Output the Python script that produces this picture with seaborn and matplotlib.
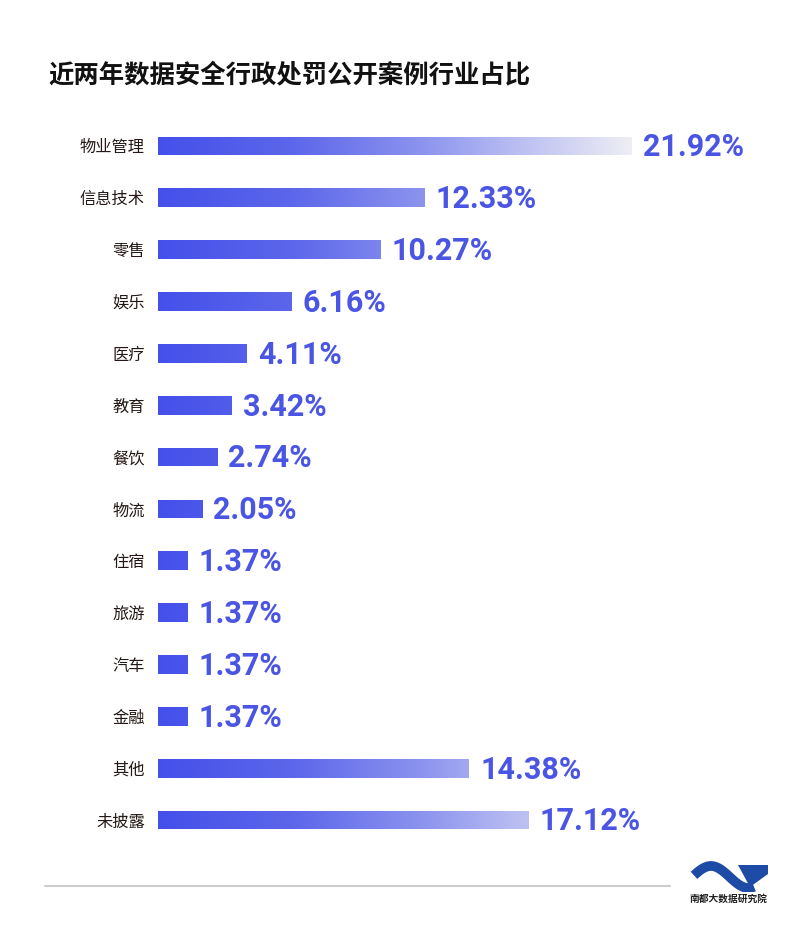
import numpy as np
import pandas as pd
import matplotlib
matplotlib.use("Agg")
import matplotlib.pyplot as plt
from matplotlib.colors import LinearSegmentedColormap
import seaborn as sns

# Data
CATEGORIES = ["物业管理", "信息技术", "零售", "娱乐", "医疗", "教育", "餐饮",
              "物流", "住宿", "旅游", "汽车", "金融", "其他", "未披露"]
SHARES = [21.92, 12.33, 10.27, 6.16, 4.11, 3.42, 2.74,
          2.05, 1.37, 1.37, 1.37, 1.37, 14.38, 17.12]
TITLE = "近两年数据安全行政处罚公开案例行业占比"
SOURCE = "南都大数据研究院"

BLUE = "#4450ea"
CJK = ["Noto Sans CJK SC", "DejaVu Sans"]
NUM_FONT = ["Liberation Sans Narrow", "Roboto", "Liberation Sans", "DejaVu Sans"]

sns.set_theme(style="white")
plt.rcParams["font.family"] = CJK

W, H = 800, 942
fig = plt.figure(figsize=(W / 100, H / 100), dpi=100)

# axes: x from 158px, 21.62 px per percent
px_per_unit = 474 / 21.92
ax_left, ax_right = 158, 770
ax_top, ax_bot = 120, 846
ax = fig.add_axes([ax_left / W, 1 - ax_bot / H, (ax_right - ax_left) / W, (ax_bot - ax_top) / H])

df = pd.DataFrame({"industry": CATEGORIES, "share": SHARES})
sns.barplot(data=df, x="share", y="industry", orient="h", color=BLUE,
            width=0.36, ax=ax, saturation=1)

xmax = (ax_right - ax_left) / px_per_unit

# gradient fill in absolute x, ending at the largest value
grad = LinearSegmentedColormap.from_list(
    "bar_grad",
    [(0.0, "#4450ea"), (0.28, "#5c66ea"), (0.56, "#8c94ee"),
     (0.66, "#a3a9f0"), (0.78, "#bec2f2"), (1.0, "#eeeef4")])
gvals = np.linspace(0, 1, 512).reshape(1, -1)
gmax = max(SHARES)
for patch in ax.patches:
    patch.set_facecolor("none")
    patch.set_edgecolor("none")
    im = ax.imshow(gvals, cmap=grad, aspect="auto", zorder=2,
                   extent=[0, gmax, len(CATEGORIES), -1], interpolation="bicubic")
    im.set_clip_path(patch)

ax.set_xlim(0, xmax)
ax.set_ylim(len(CATEGORIES) - 0.5, -0.5)

for i, v in enumerate(SHARES):
    ax.annotate(f"{v:.2f}%", (v, i), xytext=(8, -1), textcoords="offset points",
                va="center", ha="left", fontsize=22, fontweight="bold",
                color="#4a55e4", family=NUM_FONT)

ax.set_xlabel("")
ax.set_ylabel("")
ax.set_xticks([])
ax.tick_params(axis="y", length=0, pad=9.5, labelsize=11.7, labelcolor="#231815")
for spine in ax.spines.values():
    spine.set_visible(False)

# title
fig.text(48 / W, 1 - 75 / H, TITLE, fontsize=18.3, fontweight="bold",
         color="#111111", va="center", ha="left")

# footer line
fig.add_artist(plt.Line2D([45 / W, 670 / W], [1 - 886 / H, 1 - 886 / H],
                          color="#cccccc", lw=1.5))

# logo
lax = fig.add_axes([685 / W, 1 - 892 / H, 90 / W, 34 / H])
lax.set_xlim(685, 775)
lax.set_ylim(892, 858)
lax.axis("off")
t = np.linspace(0, 1, 100)
xs = 694 + t * 60
ys = 877 - 11 * np.sin(np.pi * 1.6 * t + 0.15)
lax.plot(xs, ys, color="#1d4ba5", lw=7, solid_capstyle="butt")
lax.fill([738, 768, 768, 750], [865, 865, 874, 887], color="#1d4ba5", lw=0)
fig.text(728 / W, 1 - 899 / H, SOURCE, fontsize=7, fontweight="bold",
         color="#222222", ha="center", va="center")

fig.savefig("out.png", dpi=100, facecolor="white")
